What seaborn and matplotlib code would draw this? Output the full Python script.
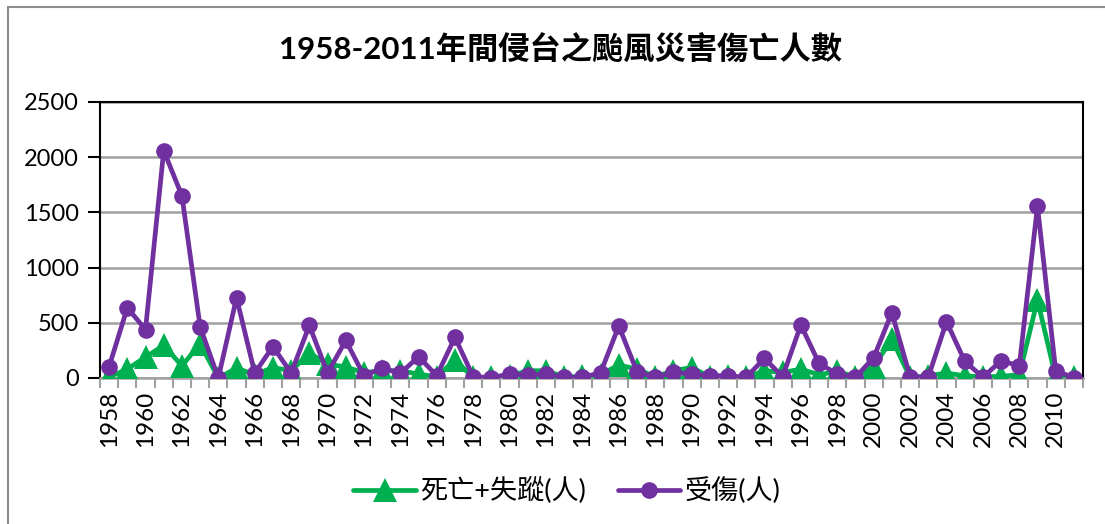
import matplotlib
matplotlib.use("Agg")
import matplotlib.pyplot as plt
import seaborn as sns
import pandas as pd
from matplotlib.patches import Rectangle

years = list(range(1958, 2012))
injured = [103, 636, 439, 2060, 1651, 464, 0, 727, 45, 285,
           45, 476, 45, 340, 21, 90, 42, 193, 21, 368,
           12, 3, 36, 27, 36, 6, 6, 48, 471, 57,
           6, 51, 36, 21, 21, 6, 178, 12, 480, 133,
           36, 6, 184, 592, 12, 8, 510, 154, 6, 157,
           109, 1558, 66, 3]
dead_missing = [10, 80, 190, 295, 110, 310, 0, 90, 30, 95,
                65, 225, 125, 100, 48, 66, 66, 36, 10, 163,
                6, 6, 20, 66, 66, 10, 15, 30, 118, 80,
                12, 66, 95, 10, 15, 5, 66, 50, 80, 30,
                60, 10, 102, 353, 5, 20, 45, 20, 10, 15,
                30, 707, 5, 5]
title = "1958-2011年間侵台之颱風災害傷亡人數"
label_dead = "死亡+失蹤(人)"
label_inj = "受傷(人)"
y_ticks = [0, 500, 1000, 1500, 2000, 2500]
x_labels = list(range(1958, 2011, 2))

sns.set_theme(style="white")
plt.rcParams['font.family'] = ['Lato', 'Noto Sans CJK TC', 'DejaVu Sans']
plt.rcParams['text.color'] = 'black'
plt.rcParams['xtick.color'] = 'black'
plt.rcParams['ytick.color'] = 'black'

GREEN = "#00B050"
PURPLE = "#7030A0"

fig = plt.figure(figsize=(11.05, 5.24), dpi=100)
ax = fig.add_axes([100/1105, 1-378/524, (1083-100)/1105, (378-102)/524])

df = pd.DataFrame({"year": years, "dead": dead_missing, "inj": injured})

sns.lineplot(data=df, x="year", y="dead", ax=ax, color=GREEN, lw=3.4,
             marker="^", markersize=17, markeredgewidth=0, label=label_dead, zorder=3)
sns.lineplot(data=df, x="year", y="inj", ax=ax, color=PURPLE, lw=3.4,
             marker="o", markersize=12, markeredgewidth=0, label=label_inj, zorder=4)

ax.set_xlim(1957.5, 2011.5)
ax.set_ylim(0, 2500)
ax.set_yticks(y_ticks)
ax.set_yticklabels([str(v) for v in y_ticks], fontsize=17)
ax.set_xticks(x_labels)
ax.set_xticklabels([str(v) for v in x_labels], rotation=90, fontsize=17.5)
ax.set_xticks([y + 0.5 for y in range(1957, 2012)], minor=True)
ax.tick_params(axis='x', which='major', length=0, pad=9, labelcolor='black')
ax.tick_params(axis='x', which='minor', length=7, width=1.5, color='#A0A0A0', bottom=True)
ax.tick_params(axis='y', which='major', length=9, width=1.5, color='black', left=True,
               pad=6, labelcolor='black')
ax.set_xlabel("")
ax.set_ylabel("")

ax.grid(axis='y', color='#A0A0A0', lw=1.8, zorder=0)
ax.grid(axis='x', visible=False)
ax.set_axisbelow(True)
for s in ['left', 'top', 'right']:
    ax.spines[s].set_color('black')
    ax.spines[s].set_linewidth(1.5)
ax.spines['bottom'].set_color('#A0A0A0')
ax.spines['bottom'].set_linewidth(1.8)

ax.get_legend().remove()
handles, labels = ax.get_legend_handles_labels()
fig.legend(handles, labels, loc='center', bbox_to_anchor=(0.513, 1-491/524), ncol=2,
           frameon=False, fontsize=19.5, handlelength=2.3, columnspacing=1.2,
           handletextpad=0.15, labelcolor='black')

fig.text(0.507, 1-48/524, title, ha='center', va='center', fontsize=22.5,
         fontweight='bold', color='black')

fig.patches.append(Rectangle((8/1105, -0.1), 1.2, 1-7/524+0.1, transform=fig.transFigure,
                             fill=False, edgecolor='#8C8C8C', lw=1.5, zorder=0))

fig.savefig("out.png", dpi=100)
